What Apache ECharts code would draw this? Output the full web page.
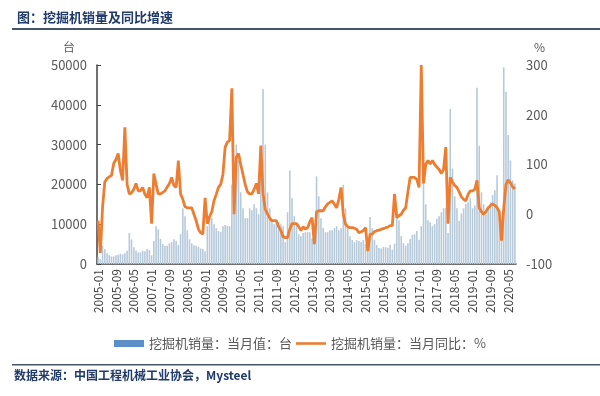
<!DOCTYPE html>
<html><head><meta charset="utf-8">
<script src="https://cdn.jsdelivr.net/npm/echarts@6/dist/echarts.min.js"></script>
<style>html,body{margin:0;padding:0;background:#fff;}#c{width:600px;height:396px;}</style>
</head><body><div id="c"></div>
<script>
// months 2005-01 .. 2020-08
var startYear = 2005, monthCount = 188;
var categories = [];
for (var k = 0; k < monthCount; k++) {
  var y = startYear + Math.floor(k / 12), m = k % 12 + 1;
  categories.push(y + '-' + (m < 10 ? '0' + m : m));
}
// Monthly sales (units, 台)
var sales2005 = [1800,1200,4600,3800,2700,2200,1900,1900,2200,2300,2600,2400];
var sales2006 = [2700,3300,7800,6200,4200,3400,2900,2900,3300,3200,3800,3500];
var sales2007 = [2200,5800,9500,8700,6300,5000,4500,4600,5200,5500,6200,5800];
var sales2008 = [4800,7500,14000,12000,8500,6200,5200,4700,4600,4300,3900,3800];
var sales2009 = [3200,9500,12000,11500,10000,9000,8300,8000,9500,9800,9600,9500];
var sales2010 = [20000,13000,30000,26000,18000,14000,11500,11500,14000,13500,15000,14000];
var sales2011 = [12500,24000,44000,30000,18000,14000,11000,10000,11000,10500,10000,9500];
var sales2012 = [5500,13000,23500,16500,12000,9500,7500,7000,7800,8000,8000,8000];
var sales2013 = [6500,5800,22000,17000,11500,9000,8000,8000,8500,8500,9000,9500];
var sales2014 = [8500,9000,19900,14000,9000,7000,6000,5500,6000,5800,5500,6000];
var sales2015 = [5000,3500,11800,9000,6000,4800,4000,3900,4300,4200,4100,4800];
var sales2016 = [3600,5100,14000,11000,7000,5200,4600,5200,6300,7300,7500,8300];
var sales2017 = [6100,9500,22800,15000,11000,10500,9500,10000,11400,12000,13000,14000];
var sales2018 = [14200,7800,38900,24000,17000,14000,10800,12700,14000,15100,15500,16500];
var sales2019 = [14000,14700,44300,29700,18000,15000,12400,14000,15500,17300,18500,22300];
var sales2020 = [11900,6300,49400,43300,32400,26000,21000,20200];
// Monthly YoY (%)
var yoy2005 = [-13,-78,15,65,72,75,78,102,110,122,88,68];
var yoy2006 = [175,60,41,43,50,62,47,47,54,40,33,54];
var yoy2007 = [-19,82,60,41,41,44,47,55,62,74,58,54];
var yoy2008 = [108,41,30,15,13,13,13,0,-13,-30,-37,-40];
var yoy2009 = [33,-19,-5,5,27,40,54,60,80,135,145,148];
var yoy2010 = [253,0,114,122,100,80,60,45,41,41,50,62];
var yoy2011 = [41,138,41,10,1,-8,-13,-13,-13,-25,-33,-45];
var yoy2012 = [-47,-47,-30,-19,-19,-19,-25,-33,-25,-30,-27,-15];
var yoy2013 = [-7,-60,5,7,7,7,15,21,24,27,20,13];
var yoy2014 = [30,54,0,-20,-25,-27,-27,-28,-30,-37,-35,-33];
var yoy2015 = [-27,-74,-40,-40,-35,-33,-32,-30,-29,-27,-26,-23];
var yoy2016 = [-23,41,-7,-3,0,8,13,45,74,74,74,70];
var yoy2017 = [54,300,62,100,108,101,108,100,95,90,82,90];
var yoy2018 = [135,-19,74,65,58,54,45,35,30,27,40,47];
var yoy2019 = [47,50,68,13,5,0,5,13,17,21,18,13];
var yoy2020 = [5,-53,12,60,69,63,55,51];

var salesData = [].concat(sales2005,sales2006,sales2007,sales2008,sales2009,sales2010,sales2011,sales2012,sales2013,sales2014,sales2015,sales2016,sales2017,sales2018,sales2019,sales2020);
var yoyData = [].concat(yoy2005,yoy2006,yoy2007,yoy2008,yoy2009,yoy2010,yoy2011,yoy2012,yoy2013,yoy2014,yoy2015,yoy2016,yoy2017,yoy2018,yoy2019,yoy2020);

var leftTicks = [0, 50000, 10000];
var rightTicks = [-100, 300, 100];
var barName = '挖掘机销量：当月值：台';
var lineName = '挖掘机销量：当月同比：%';

var FONT = 'Noto Sans CJK SC';
var chart = echarts.init(document.getElementById('c'), null, {renderer: 'canvas'});
chart.setOption({
  animation: false,
  textStyle: {fontFamily: FONT},
  title: {
    text: '图：挖掘机销量及同比增速',
    left: 12, top: 6,
    textStyle: {fontFamily: FONT, fontSize: 13, fontWeight: 'bold', color: '#1f3a6b'}
  },
  graphic: [
    {type: 'rect', shape: {x: 12, y: 28, width: 588, height: 2}, style: {fill: '#44546a'}},
    {type: 'rect', shape: {x: 12, y: 364, width: 588, height: 1.5}, style: {fill: '#44546a'}},
    {type: 'text', left: 14, top: 369, style: {text: '数据来源：中国工程机械工业协会，Mysteel', fontFamily: FONT, fontSize: 12, fontWeight: 'bold', fill: '#1f3a6b'}}
  ],
  legend: {
    bottom: 41, left: 'center',
    itemGap: 4, itemWidth: 30, itemHeight: 7,
    textStyle: {fontFamily: FONT, fontSize: 13, color: '#595959'},
    data: [
      {name: barName, icon: 'rect', itemStyle: {color: '#5b8fc7'}},
      {name: lineName, icon: 'path://M0,0H30V2.6H0Z', itemStyle: {color: '#ed7d31'}}
    ]
  },
  grid: {left: 97, right: 84, top: 65, bottom: 132},
  xAxis: {
    type: 'category', data: categories,
    axisLine: {lineStyle: {color: '#404040', width: 1.5}},
    axisTick: {show: false},
    axisLabel: {interval: 7, rotate: 90, fontSize: 12, color: '#404040', margin: 5, fontFamily: FONT}
  },
  yAxis: [
    {
      type: 'value', min: leftTicks[0], max: leftTicks[1], interval: leftTicks[2],
      name: '台', nameGap: 12, nameTextStyle: {color: '#595959', fontSize: 12, align: 'right', padding: [0, 22, 0, 0]},
      axisLine: {show: true, lineStyle: {color: '#404040', width: 1.5}},
      axisTick: {show: true, inside: true, length: 4, lineStyle: {color: '#404040'}},
      splitLine: {show: false},
      axisLabel: {fontSize: 13, color: '#595959', margin: 10, formatter: function (v) { return String(v); }}
    },
    {
      type: 'value', min: rightTicks[0], max: rightTicks[1], interval: rightTicks[2],
      name: '%', nameGap: 12, nameTextStyle: {color: '#595959', fontSize: 12, align: 'left', padding: [0, 0, 0, 18]},
      axisLine: {show: false}, axisTick: {show: false},
      splitLine: {show: false},
      axisLabel: {fontSize: 13, color: '#595959', margin: 10}
    }
  ],
  series: [
    {
      name: barName, type: 'bar', data: salesData, yAxisIndex: 0,
      barWidth: 1.6,
      itemStyle: {color: '#b6cada'}
    },
    {
      name: lineName, type: 'line', data: yoyData, yAxisIndex: 1,
      showSymbol: false, symbol: 'none',
      lineStyle: {color: '#ed7d31', width: 2.8},
      itemStyle: {color: '#ed7d31'},
      z: 5
    }
  ]
});
</script></body></html>
